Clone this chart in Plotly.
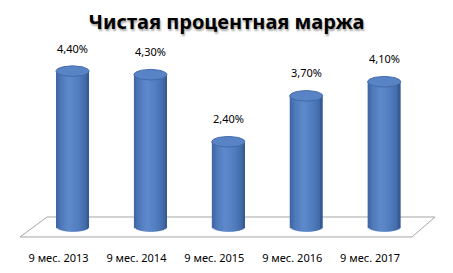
import plotly.graph_objects as go
import numpy as np

categories = ["9 мес. 2013", "9 мес. 2014", "9 мес. 2015", "9 мес. 2016", "9 мес. 2017"]
values = [4.40, 4.30, 2.40, 3.70, 4.10]
labels = ["4,40%", "4,30%", "2,40%", "3,70%", "4,10%"]
title = "Чистая процентная маржа"

FONT = "Noto Sans"
xs = list(range(len(categories)))
W = 0.424      # cylinder width in category units
RY = 0.15      # ellipse half-height in value units
N = 18         # number of shading strips

def strip_color(t):
    # t in [-1, 1], left -> right; cylinder shading
    stops = [(-1.0, (62, 100, 160)), (-0.7, (78, 120, 185)), (-0.2, (94, 138, 203)),
             (0.4, (80, 124, 190)), (0.8, (66, 106, 168)), (1.0, (50, 84, 140))]
    for (t0, c0), (t1, c1) in zip(stops[:-1], stops[1:]):
        if t0 <= t <= t1:
            f = (t - t0) / (t1 - t0)
            c = [round(a + (b - a) * f) for a, b in zip(c0, c1)]
            return "rgb(%d,%d,%d)" % tuple(c)
    return "rgb(50,84,140)"

fig = go.Figure()

# floor (3D plane outline)
fig.add_shape(type="path",
              path="M -0.674,-0.297 L 4.358,-0.297 L 4.653,0.269 L -0.327,0.269 Z",
              xref="x", yref="y", line=dict(color="#a6a6a6", width=1),
              fillcolor="white", layer="below")

# cylinder bodies as shaded strips
for k in range(N):
    t = -1 + (k + 0.5) * 2 / N
    base = -RY * np.sqrt(max(0.0, 1 - t * t))
    sw = W / N
    off = -W / 2 + k * sw
    width = min(sw * 1.4, W / 2 - off)
    fig.add_trace(go.Bar(
        x=xs, y=[v - base for v in values], base=[base] * len(values),
        offset=off, width=width,
        marker=dict(color=strip_color(t), line=dict(width=0)),
        hoverinfo="skip", showlegend=False))

# top ellipses
theta = np.linspace(0, 2 * np.pi, 60)
for x, v in zip(xs, values):
    fig.add_trace(go.Scatter(
        x=x + W / 2 * np.cos(theta), y=v + RY * np.sin(theta),
        mode="lines", fill="toself", fillcolor="rgb(88,131,196)",
        line=dict(color="rgb(66,106,170)", width=1),
        hoverinfo="skip", showlegend=False))

# data labels
for x, v, lab in zip(xs, values, labels):
    fig.add_annotation(x=x, y=v, text=lab, showarrow=False, yshift=23,
                       font=dict(family=FONT, size=11, color="#000000"))

fig.update_layout(
    width=453, height=273,
    margin=dict(l=0, r=0, t=0, b=23),
    paper_bgcolor="white", plot_bgcolor="white",
    barmode="overlay",
    title=dict(text="<b>%s</b>" % title, x=0.5, xanchor="center", y=0.92, yanchor="middle",
               font=dict(family=FONT, size=20, color="#000000",
                         shadow="1px 2px 2px rgba(0,0,0,0.35)")),
    xaxis=dict(range=[-0.931, 4.884], tickvals=xs, ticktext=categories,
               showgrid=False, zeroline=False, showline=False, ticks="",
               ticklabelshift=-14,
               tickfont=dict(family=FONT, size=11, color="#000000")),
    yaxis=dict(range=[-0.666, 6.416], showgrid=False, zeroline=False,
               showline=False, showticklabels=False),
    showlegend=False,
)

fig.write_html("out.html")
